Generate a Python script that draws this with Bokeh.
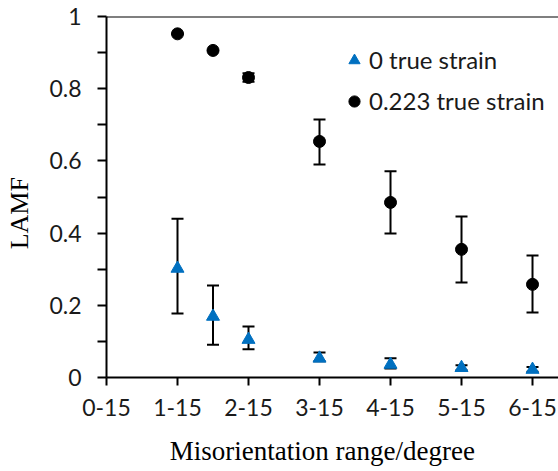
from bokeh.plotting import figure
from bokeh.models import (ColumnDataSource, Whisker, FixedTicker, Span, Legend,
                          LegendItem, NumeralTickFormatter, TeeHead)
from bokeh.embed import file_html
from bokeh.resources import INLINE

# ---- data ----
x_pos = [1, 1.5, 2, 3, 4, 5, 6]
x_ticks = [0, 1, 2, 3, 4, 5, 6]
tick_labels = ["0-15", "1-15", "2-15", "3-15", "4-15", "5-15", "6-15"]

strain0 = [0.302, 0.169, 0.105, 0.053, 0.036, 0.027, 0.022]
strain0_upper = [0.440, 0.255, 0.141, 0.069, 0.053, 0.034, 0.029]
strain0_lower = [0.177, 0.091, 0.078, 0.045, 0.025, 0.020, 0.016]

strain223 = [0.952, 0.906, 0.831, 0.654, 0.485, 0.355, 0.258]
strain223_upper = [0.952, 0.906, 0.843, 0.715, 0.571, 0.446, 0.338]
strain223_lower = [0.952, 0.906, 0.819, 0.590, 0.399, 0.263, 0.180]

src0 = ColumnDataSource(dict(x=x_pos, y=strain0, up=strain0_upper, lo=strain0_lower))
src1 = ColumnDataSource(dict(x=x_pos, y=strain223, up=strain223_upper, lo=strain223_lower))

TXT = "#1a1a1a"

p = figure(width=558, height=471, output_backend="svg", toolbar_location=None,
           x_range=(0, 6.366), y_range=(0, 1),
           min_border_left=106, min_border_right=0, min_border_top=16, min_border_bottom=94)
p.outline_line_color = None
p.grid.grid_line_color = None
p.background_fill_color = "white"
p.border_fill_color = "white"

# axes
xa = p.xaxis[0]
xa.ticker = FixedTicker(ticks=x_ticks)
xa.major_label_overrides = {t: l for t, l in zip(x_ticks, tick_labels)}
xa.axis_line_width = 2
xa.axis_line_color = "black"
xa.major_tick_line_width = 2
xa.major_tick_line_color = "black"
xa.major_tick_in = 0
xa.major_tick_out = 8
xa.minor_tick_line_color = None
xa.major_label_text_font = "Lato"
xa.major_label_text_font_size = "23px"
xa.major_label_text_color = TXT
xa.major_label_standoff = 13
# trailing no-break spaces nudge the visible title a little left of centre
xa.axis_label = "Misorientation range/degree" + "\u00a0" * 3
xa.axis_label_text_font = "Liberation Serif"
xa.axis_label_text_font_style = "normal"
xa.axis_label_text_font_size = "27px"
xa.axis_label_text_color = "black"
xa.axis_label_standoff = 17

ya = p.yaxis[0]
ya.ticker = FixedTicker(ticks=[0, 0.2, 0.4, 0.6, 0.8, 1.0],
                        minor_ticks=[0.1, 0.3, 0.5, 0.7, 0.9])
ya.formatter = NumeralTickFormatter(format="0.[0]")
ya.axis_line_width = 2
ya.axis_line_color = "black"
ya.major_tick_line_width = 2
ya.major_tick_line_color = "black"
ya.major_tick_in = 0
ya.major_tick_out = 9
ya.minor_tick_line_width = 2
ya.minor_tick_line_color = "black"
ya.minor_tick_in = 0
ya.minor_tick_out = 9
ya.major_label_text_font = "Lato"
ya.major_label_text_font_size = "23px"
ya.major_label_text_color = TXT
ya.major_label_standoff = 16
# trailing no-break spaces push the visible title slightly below centre, as in the original
ya.axis_label = "LAMF" + "\u00a0" * 5
ya.axis_label_text_font = "Liberation Serif"
ya.axis_label_text_font_style = "normal"
ya.axis_label_text_font_size = "26px"
ya.axis_label_text_color = "black"
ya.axis_label_standoff = 12

p.add_layout(Span(location=1, dimension="width", line_color="black", line_width=2))

# error bars
for src in (src0, src1):
    w = Whisker(source=src, base="x", upper="up", lower="lo",
                line_color="black", line_width=2,
                upper_head=TeeHead(size=12, line_color="black", line_width=2),
                lower_head=TeeHead(size=12, line_color="black", line_width=2))
    p.add_layout(w)

r0 = p.scatter("x", "y", source=src0, marker="triangle", size=13,
               fill_color="#0070C0", line_color="#0070C0")
r1 = p.scatter("x", "y", source=src1, marker="circle", size=12,
               fill_color="black", line_color="black")

legend = Legend(items=[LegendItem(label="0 true strain", renderers=[r0]),
                       LegendItem(label="0.223 true strain", renderers=[r1])],
                location=(234, 262), orientation="vertical",
                background_fill_alpha=0, border_line_color=None,
                label_text_font="Lato", label_text_font_size="24px",
                label_text_color=TXT,
                glyph_width=28, glyph_height=28, label_standoff=1,
                spacing=12, padding=0, margin=0)
p.add_layout(legend)

open("out.html", "w").write(file_html(p, INLINE))
